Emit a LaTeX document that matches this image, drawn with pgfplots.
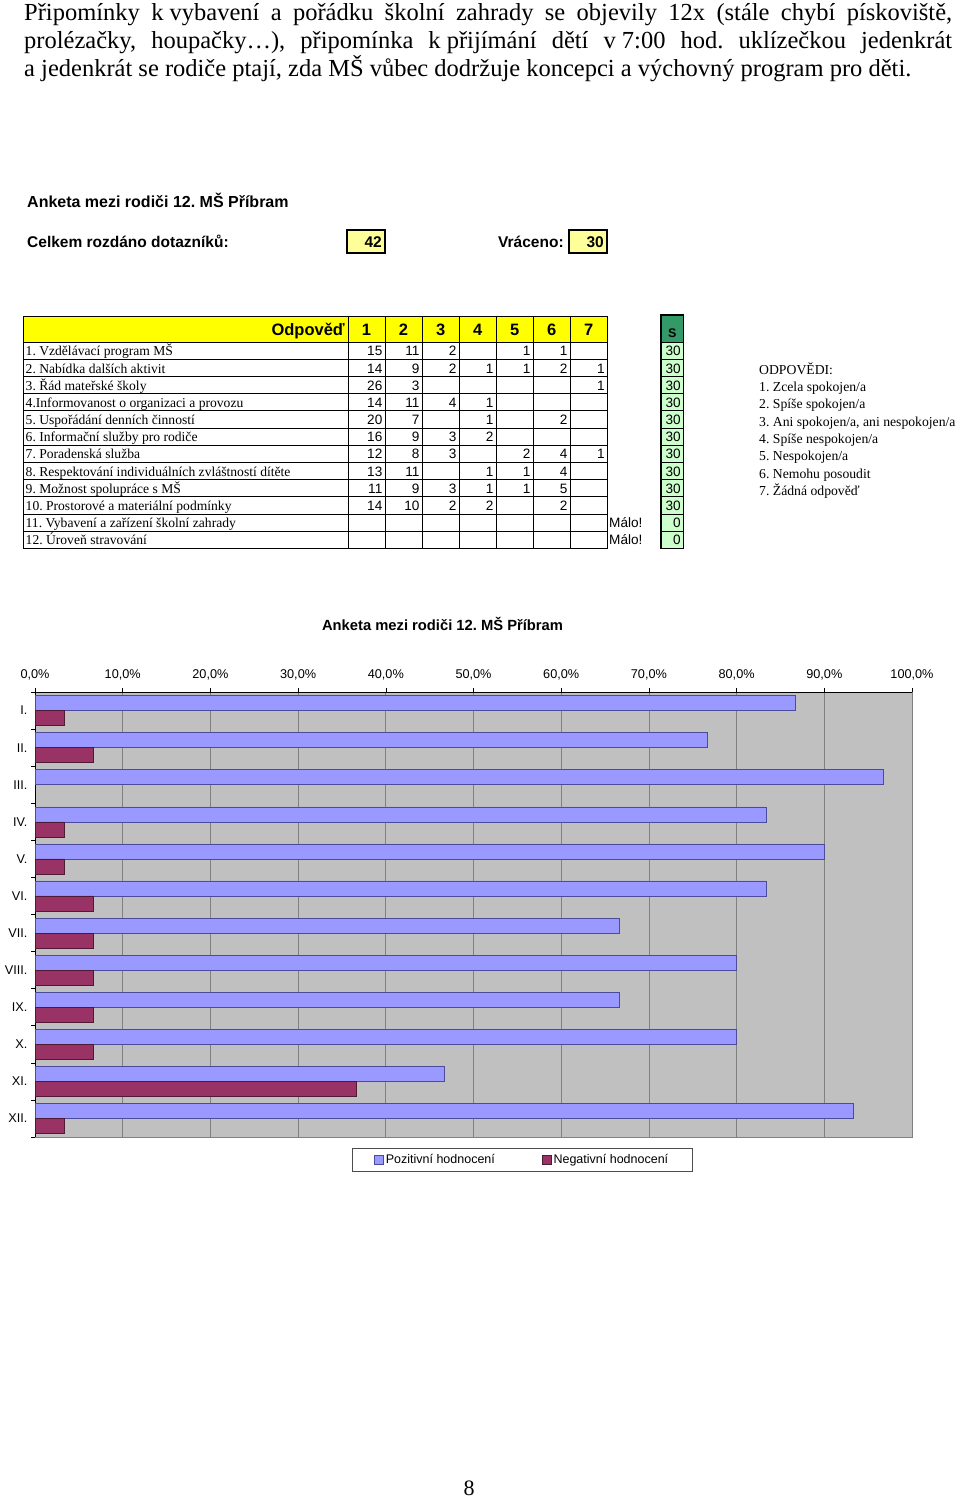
\documentclass[border=0pt]{standalone}
\usepackage{fontspec}
\setmainfont{Liberation Serif}
\newfontfamily\arial{Liberation Sans}
\usepackage{pgfplots}
\pgfplotsset{compat=1.18}
\pgfplotsset{sqlegend/.style={legend image code/.code={\draw[##1] (0pt,-4.5pt) rectangle (9pt,4.5pt);}}}
\definecolor{posc}{HTML}{9999FF}
\definecolor{posd}{HTML}{4B4B9A}
\definecolor{negc}{HTML}{993366}
\definecolor{negd}{HTML}{4D1933}
\definecolor{plotbg}{HTML}{C0C0C0}
\definecolor{gridc}{HTML}{808080}
\definecolor{hdryel}{HTML}{FFFF00}
\definecolor{boxyel}{HTML}{FFFF99}
\definecolor{sdark}{HTML}{339966}
\definecolor{slight}{HTML}{CCFFCC}
\newcommand\ttab{\fontsize{13.6}{16}\selectfont}
\newcommand\atab{\arial\fontsize{13.6}{16}\selectfont}
\newcommand\cell[3]{\pgfmathsetmacro\cy{342.3+(#1-1)*17.17+13.6}\pgfmathsetmacro\cx{348+#2*37.04-2.5}\node[anchor=base east,inner sep=0,font=\atab] at (\cx,\cy) {#3};}
\newcommand\lab[2]{\pgfmathsetmacro\cy{342.3+(#1-1)*17.17+13.6}\node[anchor=base west,inner sep=0,font=\ttab] at (25.5,\cy) {#2};}
\newcommand\scell[2]{\pgfmathsetmacro\ct{342.3+(#1-1)*17.17}\pgfmathsetmacro\cb{342.3+#1*17.17}\pgfmathsetmacro\cy{342.3+(#1-1)*17.17+13.6}\draw[fill=slight,line width=1pt] (661,\ct) rectangle (683.5,\cb);\node[anchor=base east,inner sep=0,font=\atab] at (681,\cy) {#2};}
\frenchspacing
\begin{document}
\frenchspacing
\begin{tikzpicture}
\fill[white] (0,0) rectangle (960pt,-1499pt);
\begin{scope}[x=1pt,y=-1pt]
% paragraph
\node[anchor=base west,inner sep=0,font=\fontsize{24.5}{28}\selectfont] at (24,20) {\makebox[928pt][s]{Připomínky k\kern0.25em vybavení a pořádku školní zahrady se objevily 12x (stále chybí pískoviště,}};
\node[anchor=base west,inner sep=0,font=\fontsize{24.5}{28}\selectfont] at (24,48) {\makebox[928pt][s]{prolézačky, houpačky…), připomínka k\kern0.25em přijímání dětí v\kern0.25em 7:00 hod. uklízečkou jedenkrát}};
\node[anchor=base west,inner sep=0,font=\fontsize{24.5}{28}\selectfont] at (24,76) {a jedenkrát se rodiče ptají, zda MŠ vůbec dodržuje koncepci a výchovný program pro děti.};
% header
\node[anchor=base west,inner sep=0,font=\arial\bfseries\fontsize{16}{19}\selectfont] at (27,207) {Anketa mezi rodiči 12. MŠ Příbram};
\node[anchor=base west,inner sep=0,font=\arial\bfseries\fontsize{15.5}{18}\selectfont] at (27,247) {Celkem rozdáno dotazníků:};
\draw[fill=boxyel,line width=1.6pt] (347,230) rectangle (385,253);
\node[anchor=base east,inner sep=0,font=\arial\bfseries\fontsize{15.5}{18}\selectfont] at (382,247) {42};
\node[anchor=base west,inner sep=0,font=\arial\bfseries\fontsize{15.5}{18}\selectfont] at (498,247) {Vráceno:};
\draw[fill=boxyel,line width=1.6pt] (569,230) rectangle (607,253);
\node[anchor=base east,inner sep=0,font=\arial\bfseries\fontsize{15.5}{18}\selectfont] at (604,247) {30};
% table header
\fill[hdryel] (23.5,316.5) rectangle (607.3,342.3);
\node[anchor=base east,inner sep=0,font=\arial\bfseries\fontsize{16.5}{19}\selectfont] at (345,335) {Odpověď};
\foreach \k in {1,...,7}{\pgfmathsetmacro\cx{348+(\k-0.5)*37.04}\node[anchor=base,inner sep=0,font=\arial\bfseries\fontsize{16.5}{19}\selectfont] at (\cx,335) {\k};}
% grid
\foreach \i in {1,...,11}{\pgfmathsetmacro\yy{342.3+\i*17.17}\draw[line width=1pt] (23.5,\yy) -- (607.3,\yy);}
\foreach \k in {0,...,6}{\pgfmathsetmacro\xx{348+\k*37.04}\draw[line width=1pt] (\xx,316.5) -- (\xx,548.3);}
\draw[line width=1.6pt] (23.5,342.3) -- (607.3,342.3);
\draw[line width=1.6pt] (23.5,316.5) rectangle (607.3,548.3);
% labels
\lab{1}{1. Vzdělávací program MŠ}
\lab{2}{2. Nabídka dalších aktivit}
\lab{3}{3. Řád mateřské školy}
\lab{4}{4.Informovanost o organizaci a provozu}
\lab{5}{5. Uspořádání denních činností}
\lab{6}{6. Informační služby pro rodiče}
\lab{7}{7. Poradenská služba}
\lab{8}{8. Respektování individuálních zvláštností dítěte}
\lab{9}{9. Možnost spolupráce s MŠ}
\lab{10}{10. Prostorové a materiální podmínky}
\lab{11}{11. Vybavení a zařízení školní zahrady}
\lab{12}{12. Úroveň stravování}
% values
\cell{1}{1}{15}\cell{1}{2}{11}\cell{1}{3}{2}\cell{1}{5}{1}\cell{1}{6}{1}
\cell{2}{1}{14}\cell{2}{2}{9}\cell{2}{3}{2}\cell{2}{4}{1}\cell{2}{5}{1}\cell{2}{6}{2}\cell{2}{7}{1}
\cell{3}{1}{26}\cell{3}{2}{3}\cell{3}{7}{1}
\cell{4}{1}{14}\cell{4}{2}{11}\cell{4}{3}{4}\cell{4}{4}{1}
\cell{5}{1}{20}\cell{5}{2}{7}\cell{5}{4}{1}\cell{5}{6}{2}
\cell{6}{1}{16}\cell{6}{2}{9}\cell{6}{3}{3}\cell{6}{4}{2}
\cell{7}{1}{12}\cell{7}{2}{8}\cell{7}{3}{3}\cell{7}{5}{2}\cell{7}{6}{4}\cell{7}{7}{1}
\cell{8}{1}{13}\cell{8}{2}{11}\cell{8}{4}{1}\cell{8}{5}{1}\cell{8}{6}{4}
\cell{9}{1}{11}\cell{9}{2}{9}\cell{9}{3}{3}\cell{9}{4}{1}\cell{9}{5}{1}\cell{9}{6}{5}
\cell{10}{1}{14}\cell{10}{2}{10}\cell{10}{3}{2}\cell{10}{4}{2}\cell{10}{6}{2}
\pgfmathsetmacro\cy{342.3+10*17.17+13.6}\node[anchor=base west,inner sep=0,font=\atab] at (609,\cy) {Málo!};
\pgfmathsetmacro\cy{342.3+11*17.17+13.6}\node[anchor=base west,inner sep=0,font=\atab] at (609,\cy) {Málo!};
% S column
\draw[fill=sdark,line width=1.6pt] (661,315) rectangle (683.5,342.3);
\node[anchor=base,inner sep=0,font=\arial\bfseries\fontsize{12.5}{14}\selectfont] at (672.2,337) {S};
\scell{1}{30}\scell{2}{30}\scell{3}{30}\scell{4}{30}\scell{5}{30}\scell{6}{30}
\scell{7}{30}\scell{8}{30}\scell{9}{30}\scell{10}{30}\scell{11}{0}\scell{12}{0}
\draw[line width=1.6pt] (661,315) rectangle (683.5,548.3);
% answers legend
\foreach \t [count=\i from 0] in {ODPOVĚDI:,1. Zcela spokojen/a,2. Spíše spokojen/a,{3. Ani spokojen/a, ani nespokojen/a},4. Spíše nespokojen/a,5. Nespokojen/a,6. Nemohu posoudit,7. Žádná odpověď}{
 \pgfmathsetmacro\cy{374.3+\i*17.3}
 \node[anchor=base west,inner sep=0,font=\fontsize{13.7}{16}\selectfont] at (759,\cy) {\t};}
% page number
\node[anchor=base,inner sep=0,font=\fontsize{22}{26}\selectfont] at (469,1495) {8};
\end{scope}
\begin{axis}[
  at={(473.5pt,-914.5pt)}, anchor=center,
  scale only axis, width=877pt, height=445pt,
  xbar, bar width=15pt,
  xmin=0, xmax=100, ymin=0.5, ymax=12.5,
  axis x line*=top, axis y line*=left,
  axis line style={draw=black, line width=0.8pt},
  axis background/.style={fill=plotbg, draw=gridc, line width=0.8pt},
  xtick={0,10,...,100},
  xticklabel={\pgfmathprintnumber[fixed,fixed zerofill,precision=1,use comma]{\tick}\%},
  /pgf/number format/assume math mode=true,
  xticklabel style={font=\arial\fontsize{12.7}{14}\selectfont, yshift=4.5pt},
  ytick={0.5,1.5,...,12.5},
  yticklabels={XII.,XI.,X.,IX.,VIII.,VII.,VI.,V.,IV.,III.,II.,I.,{}},
  yticklabel style={font=\arial\fontsize{12.7}{14}\selectfont, yshift=18.54pt},
  tick align=outside, major tick length=4pt, tick style={draw=black, line width=0.6pt},
  xmajorgrids, major grid style={draw=gridc, line width=0.8pt},
  title={Anketa mezi rodiči 12. MŠ Příbram},
  title style={font=\arial\bfseries\fontsize{14.75}{17}\selectfont, at={(0.4647,1)}, anchor=base, yshift=55.5pt},
  legend style={at={(0.3615,0)}, anchor=north west, yshift=-11pt, legend columns=2, draw=black!70, fill=white, font=\arial\fontsize{12.5}{14}\selectfont, inner xsep=22pt, inner ysep=4pt, /tikz/every even column/.append style={column sep=45pt}},
  legend cell align=left,
]
\addplot[fill=posc, draw=posd, line width=0.6pt, bar shift=7.5pt, sqlegend] coordinates {(86.67,12) (76.67,11) (96.67,10) (83.33,9) (90,8) (83.33,7) (66.67,6) (80,5) (66.67,4) (80,3) (46.67,2) (93.33,1)};
\addlegendentry{Pozitivní hodnocení}
\addplot[fill=negc, draw=negd, line width=0.6pt, bar shift=-7.5pt, sqlegend] coordinates {(3.33,12) (6.67,11) (3.33,9) (3.33,8) (6.67,7) (6.67,6) (6.67,5) (6.67,4) (6.67,3) (36.67,2) (3.33,1)};
\addlegendentry{Negativní hodnocení}
\end{axis}
\pgfresetboundingbox
\useasboundingbox (0,0) rectangle (960pt,-1499pt);
\end{tikzpicture}
\end{document}
